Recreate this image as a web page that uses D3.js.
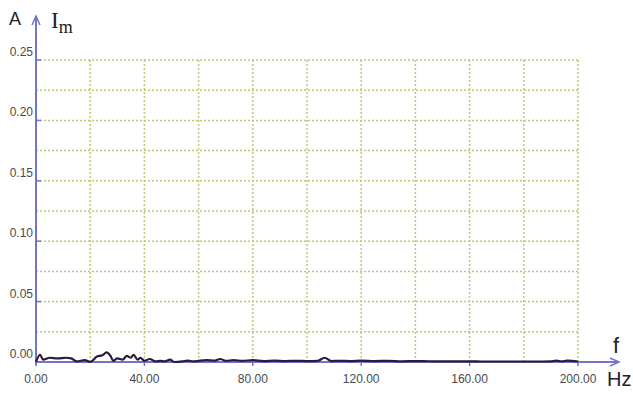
<!DOCTYPE html>
<html>
<head>
<meta charset="utf-8">
<script src="https://cdn.jsdelivr.net/npm/d3@7"></script>
<style>
  html, body { margin: 0; padding: 0; background: #fff; }
  svg { display: block; }
</style>
</head>
<body>
<svg id="chart" width="633" height="394"></svg>
<script>
// Amplitude spectrum of Im, frequency in Hz, amplitude in A
const freqHz = [0,1.5,2.6,5,8,11,13,15,18,20,22.5,24.5,26,27.5,28.5,30,32,33.5,35,36,37.5,38.5,40,42,44,46,47.5,49.5,51,54,56,58,60,63,66,68,70,73,76,80,84,88,92,96,100,104,106.5,109,112,116,120,125,130,135,140,145,150,155,160,165,170,175,180,185,190,192,194,196,200];
const ampA = [0,0.006,0.002,0.0035,0.003,0.0035,0.003,0.0005,0.0015,0,0.0045,0.0055,0.008,0.005,0.001,0.003,0.002,0.005,0.0035,0.006,0.002,0.0035,0.001,0.0025,0.0005,0.001,0.0005,0.002,0,0.0005,0.0012,0.0005,0.001,0.0015,0.0012,0.0025,0.001,0.0015,0.001,0.0015,0.0008,0.0012,0.0008,0.001,0.0008,0.001,0.0035,0.0008,0.001,0.0008,0.0012,0.0008,0.001,0.0006,0.0008,0.0006,0.0005,0.0005,0.0005,0.0004,0.0004,0.0004,0.0004,0.0004,0.0005,0.0012,0.0005,0.0012,0.0004];

const xTicks = [0, 40, 80, 120, 160, 200];
const yTicks = [0, 0.05, 0.10, 0.15, 0.20, 0.25];
const xGrid = d3.range(20, 201, 20);
const yGrid = d3.range(1, 11).map(i => i * 0.025);

const svg = d3.select("#chart");
const x = d3.scaleLinear().domain([0, 200]).range([36, 578]);
const y = d3.scaleLinear().domain([0, 0.25]).range([362, 60]);

const axisColor = "#7474cc";
const gridColor = "#b6cd72";
const labelColor = "#4a4a4a";

// dotted grid
svg.append("g").selectAll("line.h").data(yGrid).join("line")
  .attr("x1", x(0)).attr("x2", x(200))
  .attr("y1", d => y(d)).attr("y2", d => y(d))
  .attr("stroke", gridColor).attr("stroke-width", 1.5)
  .attr("stroke-dasharray", "2,2");
svg.append("g").selectAll("line.v").data(xGrid).join("line")
  .attr("x1", d => x(d)).attr("x2", d => x(d))
  .attr("y1", y(0)).attr("y2", y(0.25))
  .attr("stroke", gridColor).attr("stroke-width", 1.5)
  .attr("stroke-dasharray", "2,2");

// axes with arrows
const ax = svg.append("g").attr("stroke", axisColor).attr("fill", "none").attr("stroke-width", 2);
ax.append("line").attr("x1", x(0)).attr("x2", x(0)).attr("y1", y(0) + 3).attr("y2", 16);
ax.append("path").attr("d", `M${x(0) - 4},${25} L${x(0)},${16} L${x(0) + 4},${25}`).attr("stroke-width", 1.5);
ax.append("line").attr("x1", x(0)).attr("x2", 619).attr("y1", y(0)).attr("y2", y(0));
ax.append("path").attr("d", `M${610},${y(0) - 4} L${619},${y(0)} L${610},${y(0) + 4}`).attr("stroke-width", 1.5);

// tick marks
ax.selectAll("line.yt").data(yTicks).join("line")
  .attr("x1", x(0)).attr("x2", x(0) + 5)
  .attr("y1", d => y(d)).attr("y2", d => y(d)).attr("stroke-width", 1.5);
ax.selectAll("line.xt").data(xTicks).join("line")
  .attr("x1", d => x(d)).attr("x2", d => x(d))
  .attr("y1", y(0)).attr("y2", y(0) + 4).attr("stroke-width", 1.5);

// tick labels
svg.append("g").selectAll("text").data(yTicks).join("text")
  .attr("x", 33).attr("y", d => y(d) - 4)
  .attr("text-anchor", "end")
  .attr("font-family", "Liberation Sans, Arial, sans-serif")
  .attr("font-size", 12).attr("fill", labelColor)
  .text(d => d3.format(".2f")(d));
svg.append("g").selectAll("text").data(xTicks).join("text")
  .attr("x", d => x(d)).attr("y", 383)
  .attr("text-anchor", "middle")
  .attr("font-family", "Liberation Sans, Arial, sans-serif")
  .attr("font-size", 12).attr("fill", labelColor)
  .text(d => d3.format(".2f")(d));

// spectrum line
const line = d3.line().x((d, i) => x(freqHz[i])).y(d => y(d)).curve(d3.curveMonotoneX);
svg.append("path").datum(ampA)
  .attr("d", line)
  .attr("fill", "none").attr("stroke", "#2b1a38").attr("stroke-width", 2.2)
  .attr("stroke-linejoin", "round");

// axis titles
svg.append("text").attr("x", 9).attr("y", 25)
  .attr("font-family", "Liberation Sans, Arial, sans-serif").attr("font-size", 18).attr("fill", "#222")
  .text("A");
const im = svg.append("text").attr("x", 51).attr("y", 28)
  .attr("font-family", "Liberation Serif, Times New Roman, serif").attr("font-size", 23).attr("fill", "#222");
im.append("tspan").text("I");
im.append("tspan").attr("font-size", 18).attr("dy", 5).text("m");
svg.append("text").attr("x", 613).attr("y", 353)
  .attr("font-family", "Liberation Sans, Arial, sans-serif").attr("font-size", 22).attr("fill", "#222")
  .text("f");
svg.append("text").attr("x", 607).attr("y", 386)
  .attr("font-family", "Liberation Sans, Arial, sans-serif").attr("font-size", 20).attr("fill", "#222")
  .text("Hz");
</script>
</body>
</html>
